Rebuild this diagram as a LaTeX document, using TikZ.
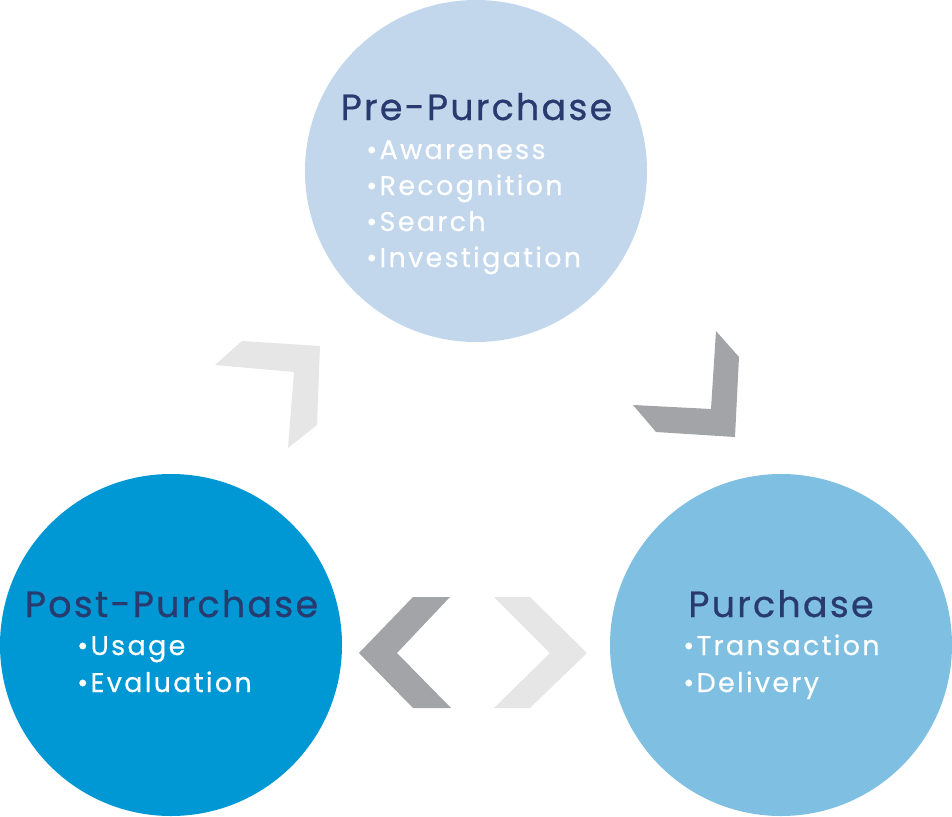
\documentclass[tikz,border=0pt]{standalone}
\usepackage{fontspec}
\setmainfont{Poppins}
\newfontfamily\titlefont[LetterSpace=6,FakeBold=0.6]{Poppins}
\newfontfamily\itemfont[LetterSpace=8.5,FakeBold=0.4]{Poppins}
\definecolor{preblue}{HTML}{C2D6EC}
\definecolor{postblue}{HTML}{0098D4}
\definecolor{purblue}{HTML}{7FC0E2}
\definecolor{navy}{HTML}{283A6E}
\definecolor{lightchev}{HTML}{E6E6E6}
\definecolor{darkchev}{HTML}{A3A4A8}
\begin{document}
\begin{tikzpicture}[x=1pt,y=-1pt,
  stage/.style={circle,minimum size=342pt,inner sep=0pt,draw=none},
  title/.style={anchor=base,inner sep=0pt,text=navy,font=\titlefont\fontsize{36.5}{40}\selectfont},
  item/.style={anchor=base west,inner sep=0pt,text=white,font=\itemfont\fontsize{27}{30}\selectfont}]
\useasboundingbox (0,0) rectangle (952,816);
% circles
\node[stage,fill=preblue] (pre) at (476,171) {};
\node[stage,fill=postblue] (post) at (171,645) {};
\node[stage,fill=purblue] (pur) at (781,645) {};
% chevrons
\fill[lightchev] (215,365) -- (242,341) -- (320,346) -- (317,425) -- (288,448) -- (294,372) -- cycle;
\fill[darkchev] (716,331) -- (739,357) -- (735,437) -- (656,432) -- (633,405) -- (711,409) -- cycle;
\fill[darkchev] (413,597) -- (450,597) -- (397,653) -- (451,708) -- (413,708) -- (359,653) -- cycle;
\fill[lightchev] (494,597) -- (530,597) -- (587,653) -- (530,708) -- (494,708) -- (550,653) -- cycle;
% texts
\node[title] (pret) at (476.5,120) {Pre-Purchase};
\node[item] (pre1) at (366,159) {•Awareness};
\node[item] (pre2) at (366,195) {•Recognition};
\node[item] (pre3) at (366,231) {•Search};
\node[item] (pre4) at (366,267) {•Investigation};
\node[title] (postt) at (171.5,617) {Post-Purchase};
\node[item] (post1) at (77,655) {•Usage};
\node[item] (post2) at (77,692) {•Evaluation};
\node[title] (purt) at (781,617) {Purchase};
\node[item] (pur1) at (683,655) {•Transaction};
\node[item] (pur2) at (683,692) {•Delivery};
\end{tikzpicture}
\end{document}
